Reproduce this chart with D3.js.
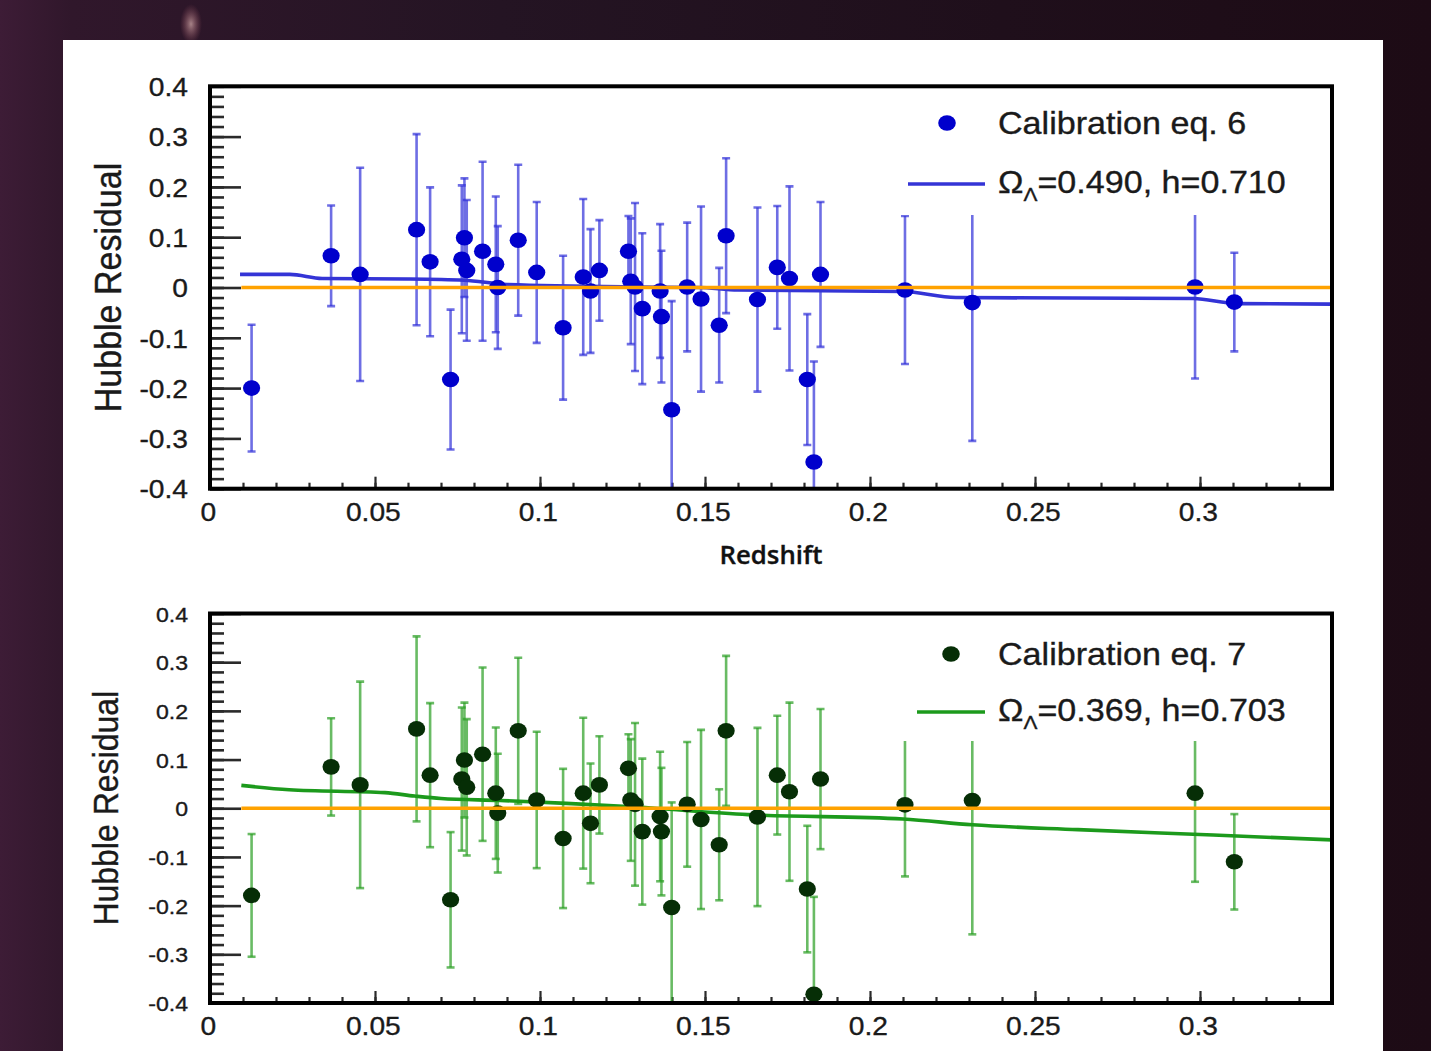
<!DOCTYPE html>
<html>
<head>
<meta charset="utf-8">
<script src="https://cdnjs.cloudflare.com/ajax/libs/d3/7.8.5/d3.min.js"></script>
<style>
  html, body { margin: 0; padding: 0; }
  body {
    width: 1431px; height: 1051px; overflow: hidden;
    background: linear-gradient(90deg, #3d1c36 0%, #30172b 5%, #241423 35%, #1f0f1b 70%, #1d0b15 100%);
  }
  #viz { position: absolute; left: 0; top: 0; }
  #viz text { stroke: #1a1a1a; stroke-width: 0.35px; }
</style>
</head>
<body>
<svg id="viz"></svg>
<script>
/** Data */
// redshift of every supernova (same objects in both panels)
var redshift = [0.0126, 0.0367, 0.0455, 0.0626, 0.0667, 0.0729, 0.0763, 0.0771, 0.0778, 0.0826,
                0.0866, 0.0872, 0.0934, 0.0990, 0.1070, 0.1131, 0.1153, 0.1180, 0.1268, 0.1275,
                0.1288, 0.1310, 0.1364, 0.1368, 0.1399, 0.1446, 0.1488, 0.1543, 0.1564, 0.1659,
                0.1719, 0.1756, 0.1810, 0.1830, 0.1850, 0.2106, 0.2310, 0.2985, 0.3104];
// Hubble residual, calibration eq. 6
var residEq6 = [-0.200, 0.063, 0.026, 0.115, 0.051, -0.183, 0.056, 0.099, 0.034, 0.072,
                0.046, 0.000, 0.094, 0.030, -0.080, 0.021, -0.007, 0.034, 0.072, 0.0125,
                0.001, -0.042, -0.007, -0.058, -0.243, 0.001, -0.023, -0.075, 0.103, -0.024,
                0.040, 0.018, -0.183, -0.347, 0.026, -0.005, -0.030, 0.001, -0.029];
// Hubble residual, calibration eq. 7
var residEq7 = [-0.179, 0.085, 0.048, 0.163, 0.068, -0.188, 0.060, 0.099, 0.043, 0.111,
                0.031, -0.010, 0.159, 0.017, -0.062, 0.031, -0.031, 0.048, 0.082, 0.017,
                0.008, -0.048, -0.017, -0.048, -0.204, 0.008, -0.023, -0.075, 0.159, -0.018,
                0.068, 0.034, -0.166, -0.382, 0.060, 0.007, 0.016, 0.031, -0.110];
// symmetric error on the residual
var residErr = [0.126, 0.100, 0.212, 0.190, 0.148, 0.139, 0.147, 0.118, 0.140, 0.178,
                0.135, 0.122, 0.150, 0.140, 0.143, 0.155, 0.123, 0.100, 0.070, 0.125,
                0.167, 0.150, 0.133, 0.131, 0.216, 0.128, 0.184, 0.114, 0.154, 0.183,
                0.122, 0.183, 0.130, 0.200, 0.144, 0.147, 0.275, 0.182, 0.098];

// fitted cosmology curves
var fitZ6 = [0.0091, 0.0242, 0.034, 0.060, 0.077, 0.090, 0.130, 0.148, 0.160, 0.210, 0.226, 0.298, 0.311, 0.340];
var fitR6 = [0.026, 0.026, 0.018, 0.017, 0.0145, 0.006, 0.001, 0.000, -0.005, -0.008, -0.020, -0.022, -0.032, -0.033];
var fitZ7 = [0.0095, 0.024, 0.053, 0.062, 0.070, 0.088, 0.108, 0.128, 0.163, 0.210, 0.231, 0.263, 0.304, 0.340];
var fitR7 = [0.047, 0.038, 0.032, 0.025, 0.020, 0.016, 0.010, 0.003, -0.013, -0.022, -0.034, -0.044, -0.055, -0.065];
var zeroLineZ = [0.0095, 0.34];

// axes
var xDomain = [0, 0.34];
var yDomain = [-0.4, 0.4];
var xMajorTicks = [0, 0.05, 0.1, 0.15, 0.2, 0.25, 0.3];
var yMajorTicks = [-0.4, -0.3, -0.2, -0.1, 0, 0.1, 0.2, 0.3, 0.4];
var xMinorTicks = d3.range(0, 35).map(function(i){ return i / 100; });
var yMinorTicks = d3.range(-20, 21).map(function(i){ return i / 50; });

var legendNames = ['Calibration eq. 6', 'Calibration eq. 7'];
var omegaLambda = ['0.490', '0.369'];
var hubbleH = ['0.710', '0.703'];

/** Layout */
var width = 1431, height = 1051;
var STRETCH = 1.1;   // the source picture is a bit wide
var FONT = "'Liberation Sans', Arial, Helvetica, sans-serif";

var svg = d3.select('#viz')
            .attr('width', width)
            .attr('height', height);

// faint star at top
var defs = svg.append('defs');
var glow = defs.append('radialGradient').attr('id', 'glow');
glow.append('stop').attr('offset', '0%').attr('stop-color', '#d0a8a8').attr('stop-opacity', 0.75);
glow.append('stop').attr('offset', '100%').attr('stop-color', '#a05060').attr('stop-opacity', 0);
svg.append('ellipse').attr('cx', 191).attr('cy', 24).attr('rx', 11).attr('ry', 20).attr('fill', 'url(#glow)');

// white paper
svg.append('rect')
   .attr('x', 63).attr('y', 40)
   .attr('width', 1320).attr('height', 1020)
   .attr('fill', '#ffffff');

var x = d3.scaleLinear().domain(xDomain).range([210, 1332]);

function drawPanel(p){
    var y = d3.scaleLinear().domain(yDomain).range([p.bottom, p.top]);
    var g = svg.append('g');

    var clipId = 'clip' + p.id;
    defs.append('clipPath').attr('id', clipId)
        .append('rect')
        .attr('x', x(xDomain[0])).attr('y', p.top)
        .attr('width', x(xDomain[1]) - x(xDomain[0]))
        .attr('height', p.bottom - p.top);

    // ticks on left
    var yMinor = g.append('g')
                  .attr('transform', `translate(${x(0)},0)`)
                  .call(d3.axisLeft(y).tickValues(yMinorTicks).tickSize(-14).tickFormat(''));
    var yMajor = g.append('g')
                  .attr('transform', `translate(${x(0)},0)`)
                  .call(d3.axisLeft(y).tickValues(yMajorTicks).tickSize(-31).tickPadding(22)
                        .tickFormat(function(d){ return d === 0 ? '0' : d3.format('.1f')(d).replace('−', '-'); }));
    [yMinor, yMajor].forEach(function(a){
        a.select('.domain').remove();
        a.selectAll('line').attr('stroke', '#2a2a2a').attr('stroke-width', 2.6);
    });
    yMajor.selectAll('text')
          .attr('x', 0)
          .attr('dy', '0.36em')
          .attr('transform', 'translate(-22,0) scale(' + STRETCH + ',1)')
          .attr('font-family', FONT)
          .attr('font-size', p.yLabelSize)
          .attr('fill', '#1a1a1a');

    // ticks on bottom
    var xMinor = g.append('g')
                  .attr('transform', `translate(0,${p.bottom})`)
                  .call(d3.axisBottom(x).tickValues(xMinorTicks).tickSize(-6).tickFormat(''));
    var xMajor = g.append('g')
                  .attr('transform', `translate(0,${p.bottom})`)
                  .call(d3.axisBottom(x).tickValues(xMajorTicks).tickSize(-12).tickPadding(14)
                        .tickFormat(function(d){ return d === 0 ? '0' : String(d); }));
    [xMinor, xMajor].forEach(function(a){
        a.select('.domain').remove();
        a.selectAll('line').attr('stroke', '#2a2a2a').attr('stroke-width', 2.2);
    });
    xMajor.selectAll('text')
          .attr('x', -2)
          .attr('transform', 'scale(' + STRETCH + ',1)')
          .attr('font-family', FONT)
          .attr('font-size', 25.6)
          .attr('fill', '#1a1a1a');

    var data = redshift.map(function(z, i){ return {z: z, r: p.resid[i], e: residErr[i]}; });

    // error bars
    var bars = g.append('g').attr('clip-path', `url(#${clipId})`)
                .attr('stroke', p.barColor).attr('stroke-opacity', 0.7)
                .attr('stroke-width', 2.6);
    bars.selectAll('line.bar').data(data).enter().append('line')
        .attr('class', 'bar')
        .attr('x1', function(d){ return x(d.z); }).attr('x2', function(d){ return x(d.z); })
        .attr('y1', function(d){ return y(d.r - d.e); }).attr('y2', function(d){ return y(d.r + d.e); });
    bars.selectAll('line.capHi').data(data).enter().append('line')
        .attr('class', 'capHi')
        .attr('x1', function(d){ return x(d.z) - 4; }).attr('x2', function(d){ return x(d.z) + 4; })
        .attr('y1', function(d){ return y(d.r + d.e); }).attr('y2', function(d){ return y(d.r + d.e); });
    bars.selectAll('line.capLo').data(data).enter().append('line')
        .attr('class', 'capLo')
        .attr('x1', function(d){ return x(d.z) - 4; }).attr('x2', function(d){ return x(d.z) + 4; })
        .attr('y1', function(d){ return y(d.r - d.e); }).attr('y2', function(d){ return y(d.r - d.e); });

    // legend box hides what is behind it
    g.append('rect')
     .attr('x', 888).attr('y', p.top + 10)
     .attr('width', 438).attr('height', p.legendBottom - p.top - 10)
     .attr('fill', '#ffffff');

    // fit curve
    var line = d3.line()
                 .x(function(d){ return x(d[0]); })
                 .y(function(d){ return y(d[1]); });
    g.append('path')
     .datum(p.fitZ.map(function(z, i){ return [z, p.fitR[i]]; }))
     .attr('d', line.curve(d3.curveMonotoneX))
     .attr('fill', 'none')
     .attr('stroke', p.fitColor)
     .attr('stroke-width', 3.6)
     .attr('stroke-linejoin', 'round');
    line.curve(d3.curveLinear);

    // points
    g.append('g').selectAll('ellipse').data(data).enter().append('ellipse')
     .attr('clip-path', `url(#${clipId})`)
     .attr('cx', function(d){ return x(d.z); })
     .attr('cy', function(d){ return y(d.r); })
     .attr('rx', 8.6).attr('ry', 7.8)
     .attr('fill', p.pointColor);

    // zero line
    g.append('path')
     .datum(zeroLineZ.map(function(z){ return [z, 0]; }))
     .attr('d', line)
     .attr('fill', 'none')
     .attr('stroke', '#ffa200')
     .attr('stroke-width', 3.4);

    // frame
    g.append('rect')
     .attr('x', x(xDomain[0])).attr('y', p.top)
     .attr('width', x(xDomain[1]) - x(xDomain[0]))
     .attr('height', p.bottom - p.top)
     .attr('fill', 'none')
     .attr('stroke', '#000')
     .attr('stroke-width', 4);

    // legend
    var lg = g.append('g');
    lg.append('ellipse')
      .attr('cx', p.legendDot[0]).attr('cy', p.legendDot[1])
      .attr('rx', 8.8).attr('ry', 7.8)
      .attr('fill', p.pointColor);
    lg.append('text')
      .attr('transform', `translate(998,${p.legendDot[1] + 11}) scale(${STRETCH},1)`)
      .attr('font-family', FONT).attr('font-size', 31).attr('fill', '#1a1a1a')
      .text(p.name);
    lg.append('line')
      .attr('x1', p.legendLineX).attr('x2', 985)
      .attr('y1', p.legendLineY).attr('y2', p.legendLineY)
      .attr('stroke', p.fitColor).attr('stroke-width', 3.4);
    var t = lg.append('text')
      .attr('transform', `translate(998,${p.legendLineY + 9}) scale(${STRETCH},1)`)
      .attr('font-family', FONT).attr('font-size', 31).attr('fill', '#1a1a1a');
    t.append('tspan').text('Ω');
    t.append('tspan').attr('font-size', 19).attr('dy', 8).text('Λ');
    t.append('tspan').attr('dy', -8).text('=' + p.omega + ', h=' + p.h);

    // y title
    g.append('text')
     .attr('transform', `translate(${p.titleX},${(p.top + p.bottom) / 2}) scale(${STRETCH},1) rotate(-90)`)
     .attr('text-anchor', 'middle')
     .attr('dy', '0.36em')
     .attr('font-family', FONT)
     .attr('font-size', p.titleSize)
     .attr('fill', '#1a1a1a')
     .text('Hubble Residual');

    return y;
}

drawPanel({
    id: 6, top: 86.3, bottom: 488.7, legendBottom: 215,
    resid: residEq6, fitZ: fitZ6, fitR: fitR6,
    pointColor: '#0000cc', barColor: '#3030d8', fitColor: '#3434d6',
    name: legendNames[0], omega: omegaLambda[0], h: hubbleH[0],
    legendDot: [947, 123], legendLineX: 908, legendLineY: 184,
    yLabelSize: 25.6, titleX: 108, titleSize: 34
});

drawPanel({
    id: 7, top: 613.5, bottom: 1003, legendBottom: 741,
    resid: residEq7, fitZ: fitZ7, fitR: fitR7,
    pointColor: '#062e06', barColor: '#2a9e22', fitColor: '#1c9a1c',
    name: legendNames[1], omega: omegaLambda[1], h: hubbleH[1],
    legendDot: [951, 654], legendLineX: 917, legendLineY: 712,
    yLabelSize: 21, titleX: 105, titleSize: 32
});

// x axis title of the upper panel
svg.append('text')
   .attr('x', 771).attr('y', 564)
   .attr('text-anchor', 'middle')
   .attr('font-family', "'Open Sans', 'Noto Sans', sans-serif")
   .attr('font-weight', 600)
   .attr('font-size', 25)
   .attr('textLength', 103)
   .attr('lengthAdjust', 'spacingAndGlyphs')
   .attr('fill', '#111')
   .text('Redshift');
</script>
</body>
</html>
